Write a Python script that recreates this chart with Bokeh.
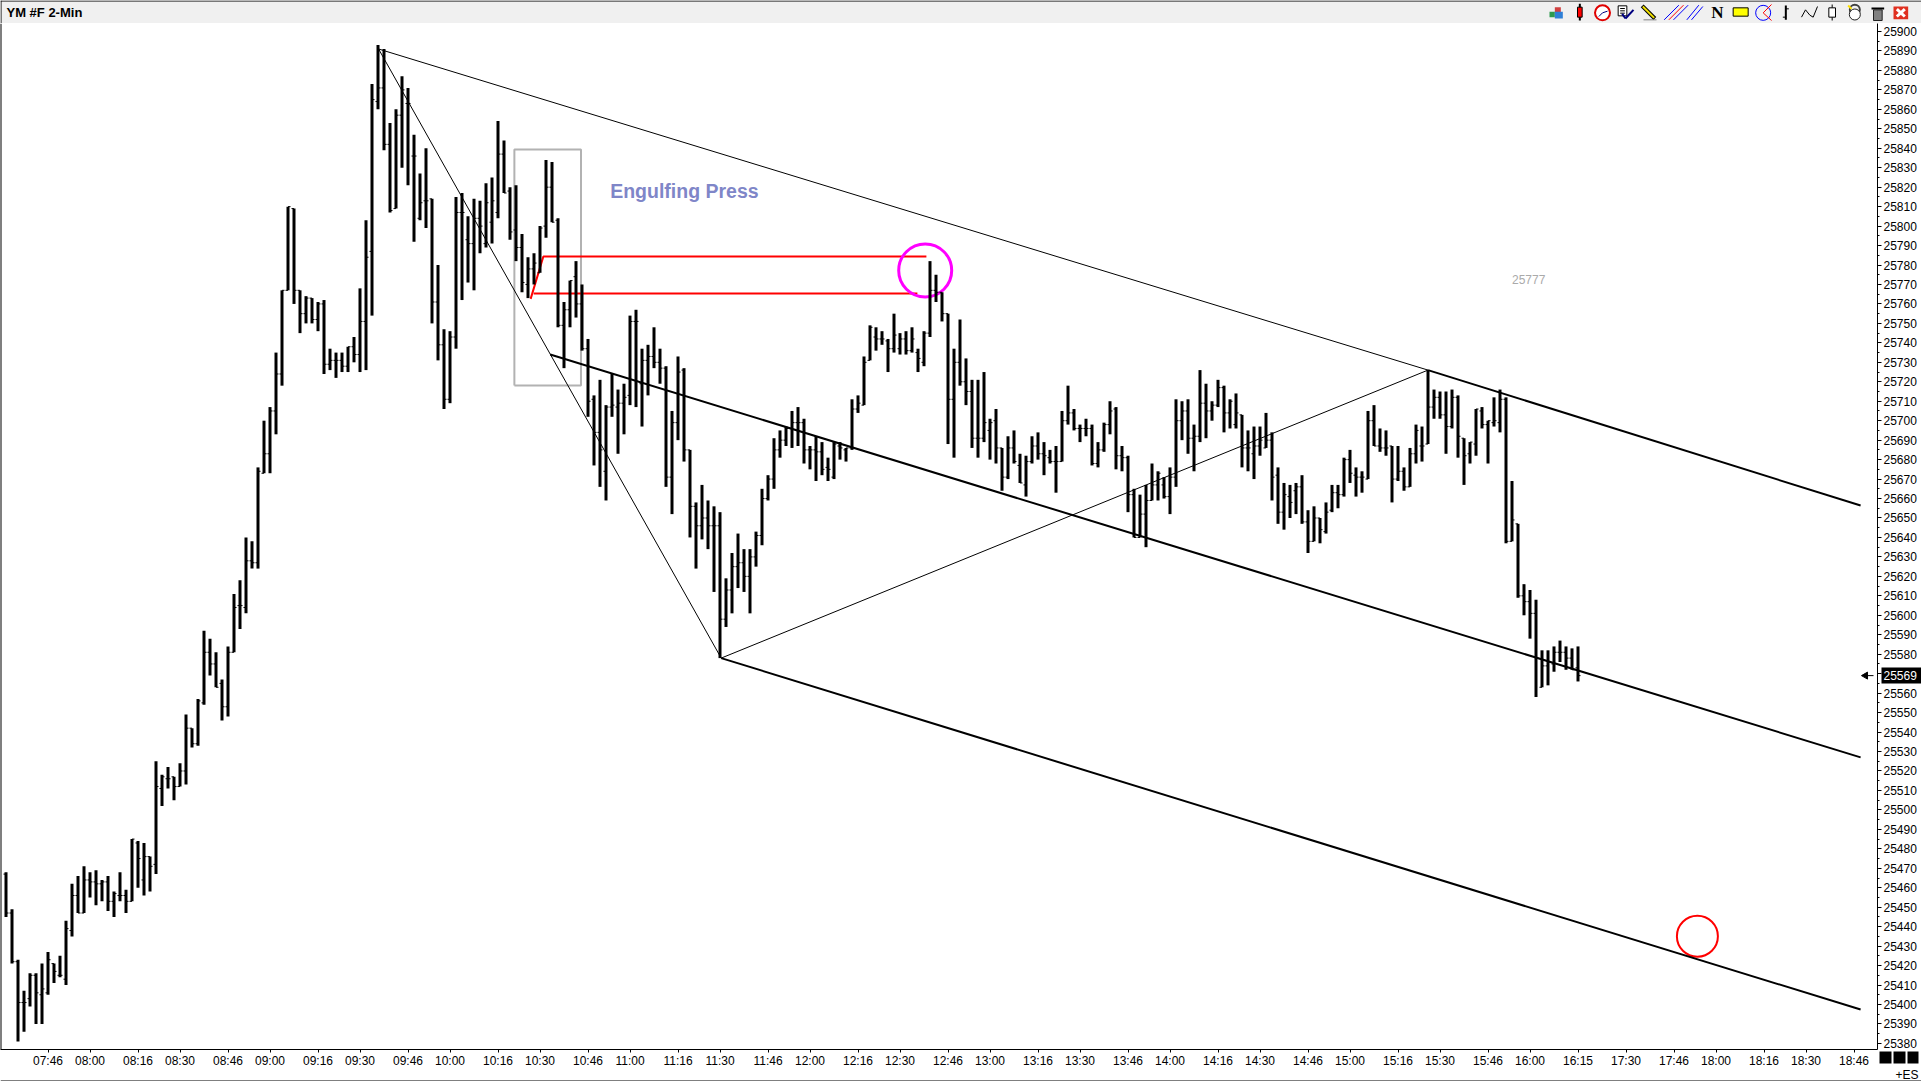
import math
from bokeh.core.properties import value
from bokeh.embed import file_html
from bokeh.resources import INLINE
from bokeh.plotting import figure
from bokeh.layouts import column, row
from bokeh.models import (Range1d, LinearAxis, FixedTicker, Label,
                          BasicTickFormatter, Span)

TITLE = "YM #F 2-Min"

HIGH = [25468,25449,25423,25407,25416,25416,25421,25427,25421,25425,
25443,25462,25466,25471,25468,25469,25464,25466,25458,25468,
25459,25485,25484,25483,25476,25525,25518,25522,25517,25524,
25549,25542,25557,25592,25588,25581,25567,25584,25611,25618,
25640,25638,25676,25700,25707,25735,25767,25810,25809,25767,
25764,25763,25761,25762,25737,25735,25735,25738,25743,25768,
25803,25873,25893,25891,25853,25860,25877,25871,25847,25827,
25840,25814,25780,25747,25746,25815,25817,25805,25814,25813,
25822,25825,25854,25844,25820,25821,25796,25784,25786,25800,
25834,25833,25804,25761,25772,25782,25770,25742,25713,25721,
25708,25724,25716,25719,25754,25757,25737,25739,25748,25737,
25728,25705,25733,25727,25685,25658,25667,25659,25656,25653,
25619,25632,25642,25634,25634,25643,25665,25672,25691,25695,
25697,25705,25707,25701,25687,25692,25689,25681,25689,25689,
25686,25711,25713,25733,25749,25748,25746,25742,25755,25745,
25746,25748,25737,25746,25782,25775,25766,25755,25737,25752,
25732,25721,25721,25725,25701,25706,25686,25692,25695,25683,
25682,25692,25694,25689,25685,25687,25705,25718,25706,25698,
25701,25698,25689,25699,25710,25707,25687,25682,25665,25662,
25667,25678,25674,25671,25676,25711,25710,25711,25698,25726,
25719,25710,25721,25718,25711,25714,25703,25695,25697,25697,
25704,25694,25676,25668,25667,25668,25672,25654,25656,25650,
25658,25667,25667,25681,25685,25676,25674,25705,25708,25696,
25695,25687,25687,25676,25686,25698,25697,25726,25716,25715,
25715,25716,25713,25691,25689,25706,25707,25700,25712,25716,
25712,25669,25647,25616,25613,25608,25582,25582,25584,25587,25584,25583,25584]

LOW = [25445,25421,25381,25386,25399,25390,25390,25405,25411,25414,
25410,25435,25447,25447,25455,25451,25453,25448,25445,25453,
25447,25453,25460,25456,25458,25467,25502,25511,25505,25512,
25513,25532,25533,25554,25569,25563,25546,25548,25581,25593,
25601,25624,25624,25673,25673,25693,25718,25767,25760,25745,
25750,25750,25746,25724,25726,25722,25725,25725,25730,25725,
25726,25754,25860,25839,25807,25809,25830,25821,25792,25803,
25799,25750,25731,25706,25709,25737,25762,25771,25767,25786,
25789,25791,25804,25817,25793,25782,25766,25763,25770,25776,
25794,25802,25748,25727,25748,25753,25736,25702,25677,25666,
25659,25702,25683,25693,25708,25707,25697,25713,25727,25719,
25666,25652,25690,25679,25640,25624,25639,25634,25612,25578,
25594,25601,25614,25612,25601,25625,25636,25659,25665,25681,
25687,25686,25687,25678,25675,25669,25672,25669,25670,25680,
25679,25685,25704,25708,25731,25736,25739,25725,25735,25734,
25734,25735,25725,25728,25743,25761,25751,25688,25681,25718,
25708,25686,25681,25689,25680,25678,25664,25670,25678,25668,
25661,25678,25680,25672,25678,25663,25679,25698,25695,25689,
25692,25677,25676,25684,25693,25675,25674,25653,25640,25640,
25635,25659,25659,25660,25652,25666,25690,25683,25674,25689,
25691,25700,25707,25694,25696,25696,25676,25674,25670,25682,
25686,25659,25647,25644,25650,25652,25647,25632,25638,25637,
25642,25653,25655,25661,25668,25661,25663,25670,25687,25684,
25682,25658,25669,25664,25666,25678,25679,25688,25701,25701,
25683,25696,25681,25667,25678,25682,25696,25678,25697,25694,
25637,25638,25609,25600,25588,25558,25563,25564,25571,25576,25572,25572,25566]

OPEN = [25467,25447,25422,25401,25403,25415,25405,25406,25421,25415,
25413,25438,25456,25447,25464,25463,25462,25463,25453,25456,
25456,25453,25483,25464,25476,25472,25511,25516,25517,25512,
25520,25542,25534,25555,25581,25575,25565,25553,25581,25605,
25604,25628,25627,25673,25683,25705,25724,25767,25809,25767,
25755,25763,25752,25760,25729,25731,25731,25728,25738,25734,
25751,25787,25864,25871,25842,25809,25857,25863,25836,25804,
25813,25814,25761,25739,25711,25743,25807,25793,25791,25804,
25791,25802,25807,25837,25818,25798,25789,25770,25778,25776,
25800,25820,25803,25749,25757,25774,25760,25737,25711,25694,
25674,25707,25707,25709,25713,25751,25719,25731,25733,25730,
25727,25671,25699,25726,25685,25656,25646,25650,25646,25646,
25598,25613,25625,25627,25620,25630,25641,25660,25670,25685,
25690,25696,25699,25699,25685,25685,25684,25676,25671,25687,
25685,25686,25706,25708,25731,25743,25742,25741,25737,25737,
25742,25736,25735,25730,25745,25767,25766,25755,25711,25730,
25720,25715,25691,25691,25695,25700,25686,25671,25686,25677,
25667,25679,25687,25683,25681,25679,25679,25700,25704,25696,
25696,25696,25678,25685,25698,25706,25682,25681,25662,25640,
25652,25659,25667,25667,25661,25671,25700,25705,25691,25692,
25709,25705,25708,25717,25704,25698,25703,25686,25683,25687,
25686,25690,25672,25653,25661,25664,25666,25648,25638,25650,
25643,25654,25663,25662,25680,25672,25671,25670,25700,25687,
25686,25687,25670,25674,25666,25683,25687,25688,25707,25712,
25703,25697,25712,25691,25683,25688,25705,25698,25699,25699,
25711,25638,25647,25610,25607,25601,25563,25574,25575,25581,25581,25578,25573]

CLOSE = [25447,25422,25401,25401,25415,25406,25408,25423,25417,25415,
25439,25456,25447,25464,25463,25462,25463,25453,25457,25456,
25453,25485,25475,25476,25471,25512,25517,25516,25512,25520,
25542,25534,25556,25581,25575,25563,25553,25581,25604,25605,
25628,25627,25674,25683,25705,25724,25767,25810,25767,25755,
25763,25752,25760,25729,25731,25731,25728,25738,25734,25751,
25784,25865,25871,25842,25808,25857,25870,25863,25836,25812,
25813,25761,25739,25711,25743,25807,25807,25791,25804,25800,
25812,25813,25837,25817,25797,25789,25771,25778,25781,25799,
25820,25802,25749,25757,25772,25760,25737,25710,25694,25685,
25707,25708,25709,25712,25751,25751,25731,25733,25730,25727,
25671,25699,25725,25685,25656,25646,25650,25646,25646,25598,
25613,25625,25627,25620,25630,25641,25660,25670,25685,25690,
25696,25699,25699,25685,25685,25684,25675,25675,25688,25686,
25686,25706,25709,25730,25748,25742,25742,25737,25744,25742,
25736,25742,25732,25745,25767,25766,25755,25711,25730,25720,
25715,25691,25691,25699,25699,25686,25671,25686,25679,25668,
25679,25687,25683,25682,25679,25679,25700,25704,25696,25696,
25696,25678,25685,25698,25705,25682,25681,25662,25640,25652,
25659,25667,25673,25661,25671,25700,25705,25691,25692,25709,
25705,25708,25717,25704,25710,25704,25686,25686,25687,25690,
25690,25671,25653,25662,25658,25666,25648,25638,25650,25644,
25653,25663,25662,25680,25673,25671,25671,25700,25687,25686,
25686,25670,25674,25666,25683,25695,25687,25707,25712,25703,
25697,25712,25692,25682,25689,25706,25698,25700,25700,25711,
25638,25649,25610,25607,25601,25578,25574,25576,25581,25581,25578,25572,25569]

TICK_BARS = [7,14,22,29,37,44,52,59,67,74,82,89,97,104,112,119,127,134,142,149,157,164,
             172,179,187,194,202,209,217,224,232,239,247,254,262,270,278,285,293,300,308]
TICK_LABELS = ["07:46","08:00","08:16","08:30","08:46","09:00","09:16","09:30","09:46","10:00",
               "10:16","10:30","10:46","11:00","11:16","11:30","11:46","12:00","12:16","12:30",
               "12:46","13:00","13:16","13:30","13:46","14:00","14:16","14:30","14:46","15:00",
               "15:16","15:30","15:46","16:00","16:15","17:30","17:46","18:00","18:16","18:30","18:46"]
PRICE_TICKS = list(range(25380, 25901, 10))
PRICE_MINOR = list(range(25385, 25901, 10))
LAST_PRICE = 25569

# drawing objects on the chart: (bar index, price)
P_A = (62.1, 25891.0)
P_B = (237.0, 25726.0)
P_C = (119.2, 25578.0)
P_RAIL_TOP_END = (309.1, 25656.4)
P_MED_START = (90.7, 25734.0)
P_MED_END = (309.1, 25527.0)
P_RAIL_LOW_END = (309.1, 25397.4)
BOX = (84.73, 95.83, 25718.1, 25839.4)
RED_TOP = [(87.44, 25762.6), (89.56, 25784.4), (153.4, 25784.4)]
RED_BOTTOM = [(87.94, 25765.4), (151.9, 25765.4)]
CIRCLE_MAG = (153.2, 25777.2)
CIRCLE_RED = (281.9, 25435.1)

W, H = 1921, 1081
BAR_H = 23
FRAME_W, RIGHT = 1877, 44
BOTTOM = 32
FRAME_H = H - BAR_H - BOTTOM
FONT = "Liberation Sans"
PX = 1 / 6                       # one pixel in bar units
X0 = -5.5 * PX
X1 = X0 + FRAME_W * PX
Y_TOP, Y_BOT = 25904.11, 25376.87
PY = (Y_TOP - Y_BOT) / FRAME_H   # one pixel in price units

p = figure(width=W, height=H - BAR_H, frame_width=FRAME_W, frame_height=FRAME_H,
           output_backend="svg", toolbar_location=None, x_axis_location=None, y_axis_location=None,
           x_range=Range1d(X0, X1), y_range=Range1d(Y_BOT, Y_TOP), frame_align=False,
           min_border_left=0, min_border_right=RIGHT, min_border_top=0, min_border_bottom=BOTTOM,
           background_fill_color="white", border_fill_color="white", outline_line_color=None)
p.grid.visible = False

xaxis = LinearAxis(ticker=FixedTicker(ticks=TICK_BARS),
                   major_label_overrides=dict(zip(TICK_BARS, TICK_LABELS)),
                   major_tick_in=0, major_tick_out=3, minor_tick_out=0, minor_tick_in=0,
                   major_label_standoff=1, major_label_text_font=FONT, major_label_text_font_size="12px",
                   major_label_text_color="#000000", axis_line_color="black", major_tick_line_color="black")
p.add_layout(xaxis, "below")
yaxis = LinearAxis(ticker=FixedTicker(ticks=PRICE_TICKS, minor_ticks=PRICE_MINOR),
                   formatter=BasicTickFormatter(use_scientific=False),
                   major_label_overrides={25570: ""},
                   major_tick_in=0, major_tick_out=4, minor_tick_in=0, minor_tick_out=2,
                   major_label_standoff=2, major_label_text_font=FONT, major_label_text_font_size="12px",
                   major_label_text_color="#000000", axis_line_color="black",
                   major_tick_line_color="black", minor_tick_line_color="black")
p.add_layout(yaxis, "right")

# left border
p.add_layout(Span(location=X0, dimension="height", line_color="black", line_width=2))

# rectangle and red parallelogram below the bars
p.line([BOX[0], BOX[1], BOX[1], BOX[0], BOX[0]], [BOX[2], BOX[2], BOX[3], BOX[3], BOX[2]],
       line_color="#b2b2b2", line_width=2)
p.line([q[0] for q in RED_TOP], [q[1] for q in RED_TOP], line_color="#ff0000", line_width=2)
p.line([q[0] for q in RED_BOTTOM], [q[1] for q in RED_BOTTOM], line_color="#ff0000", line_width=2)
p.scatter([CIRCLE_MAG[0]], [CIRCLE_MAG[1]], marker="circle", size=53, fill_color=None,
          line_color="#ff00ff", line_width=3)
p.scatter([CIRCLE_RED[0]], [CIRCLE_RED[1]], marker="circle", size=41, fill_color=None,
          line_color="#ff0000", line_width=2)

# pitchfork
thin = dict(line_color="black", line_width=1)
thick = dict(line_color="black", line_width=2)
p.line([P_A[0], P_C[0]], [P_A[1], P_C[1]], **thin)
p.line([P_A[0], P_B[0]], [P_A[1], P_B[1]], **thin)
p.line([P_C[0], P_B[0]], [P_C[1], P_B[1]], **thin)
p.line([P_B[0], P_RAIL_TOP_END[0]], [P_B[1], P_RAIL_TOP_END[1]], **thick)
p.line([P_MED_START[0], P_MED_END[0]], [P_MED_START[1], P_MED_END[1]], **thick)
p.line([P_C[0], P_RAIL_LOW_END[0]], [P_C[1], P_RAIL_LOW_END[1]], **thick)

# OHLC bars
idx = list(range(len(HIGH)))
p.segment(idx, LOW, idx, HIGH, line_color="black", line_width=3)
p.segment([i - 2.5 * PX for i in idx], OPEN, idx, OPEN, line_color="black", line_width=1)
p.segment(idx, CLOSE, [i + 2.5 * PX for i in idx], CLOSE, line_color="black", line_width=1)

# texts on the chart
p.add_layout(Label(x=100.7, y=25817.9, text="Engulfing Press", text_font=FONT, text_font_style="bold",
                   text_font_size="19.5px", text_color="#7f86c8", text_baseline="middle"))
p.add_layout(Label(x=251.0, y=25772.6, text="25777", text_font=FONT, text_font_size="12px",
                   text_color="#aaaaaa", text_baseline="middle"))

# last price arrow
p.segment([X1 - 15 * PX], [LAST_PRICE], [X1 - 4 * PX], [LAST_PRICE], line_color="black", line_width=1)
p.scatter([X1 - 12 * PX], [LAST_PRICE], marker="triangle", angle=math.pi / 2, size=7,
          fill_color="black", line_color="black")

# ---- transparent sheet above the chart: what lies outside its plotting frame
sheet = figure(width=W, height=H - BAR_H, output_backend="svg", toolbar_location=None,
               x_range=Range1d(X0, X1 + RIGHT * PX), y_range=Range1d(Y_BOT - BOTTOM * PY, Y_TOP),
               min_border=0, frame_align=False, margin=(0, 0, 0, -W),
               background_fill_alpha=0, border_fill_alpha=0, outline_line_color=None)
sheet.axis.visible = False
sheet.grid.visible = False
sheet.quad(left=[X1 + 4 * PX], right=[X1 + RIGHT * PX], bottom=[LAST_PRICE - 8 * PY], top=[LAST_PRICE + 8 * PY],
           fill_color="black", line_color=None)
sheet.text([X1 + 6 * PX], [LAST_PRICE], text=[str(LAST_PRICE)], text_font=value(FONT), text_font_size="12px",
           text_color="white", text_baseline="middle")
for a, b in [(2, 14), (16, 28), (30, 41)]:
    sheet.quad(left=[X1 + a * PX], right=[X1 + b * PX], top=[Y_BOT - 2 * PY], bottom=[Y_BOT - 14 * PY],
               fill_color="black", line_color=None)
sheet.text([X1 + 41 * PX], [Y_BOT - 25 * PY], text=["+ES"], text_font=value(FONT), text_font_size="12px",
           text_color="black", text_align="right", text_baseline="middle")
sheet.quad(left=[X0], right=[X1 + RIGHT * PX], top=[Y_BOT - 31 * PY], bottom=[Y_BOT - 32 * PY],
           fill_color="black", line_color=None)

# ---- title bar with its icons (x, y in pixels of the bar)
bar = figure(width=W, height=BAR_H, output_backend="svg", toolbar_location=None,
             x_range=Range1d(0, W), y_range=Range1d(BAR_H, 0), min_border=0, frame_align=False,
             background_fill_color="#f0f0f0", border_fill_color="#f0f0f0", outline_line_color=None)
bar.axis.visible = False
bar.grid.visible = False
bar.segment([0], [0.5], [W], [0.5], line_color="black", line_width=1)
bar.segment([0.5], [0], [0.5], [BAR_H], line_color="black", line_width=1)
bar.text([6], [12], text=[TITLE], text_font=value(FONT), text_font_style="bold",
         text_font_size="13px", text_color="black", text_baseline="middle")

def X(z):
    return 1521 + z / 3

def Y(z):
    return z / 3

def seg(x0, y0, x1, y1, color="black", w=1):
    bar.segment([X(x0)], [Y(y0)], [X(x1)], [Y(y1)], line_color=color, line_width=w)

def rect(x0, y0, x1, y1, fill, line="black"):
    bar.quad(left=[X(x0)], right=[X(x1)], top=[Y(y0)], bottom=[Y(y1)], fill_color=fill, line_color=line, line_width=1)

# cubes
rect(100, 20, 118, 36, "#d04040", None)
rect(84, 34, 100, 50, "#2e9a4e", None)
rect(100, 34, 124, 54, "#2f7fd6", None)
# red candle
seg(175, 10, 175, 60, "black", 2)
rect(168, 20, 182, 50, "#ff0000")
# clock
bar.scatter([X(243)], [Y(37)], marker="circle", size=15, fill_color="white", line_color="#e00000", line_width=2)
seg(243, 37, 232, 48, "#000080")
seg(243, 37, 258, 32, "#000080")
# check list
rect(290, 16, 316, 46, "white")
seg(296, 24, 310, 24); seg(296, 31, 310, 31); seg(296, 38, 310, 38)
seg(302, 40, 312, 54, "#000080", 2); seg(312, 54, 336, 28, "#000080", 2)
# pencil
seg(362, 16, 400, 54, "#000000", 4); seg(364, 18, 398, 52, "#f0e000", 2)
seg(366, 58, 405, 58, "#808080")
# pitchforks
seg(428, 58, 472, 14, "#0000ff"); seg(442, 58, 486, 14, "#ff0000"); seg(456, 58, 500, 14, "#0000ff")
seg(496, 58, 532, 14, "#0000ff"); seg(510, 58, 544, 18, "#0000ff")
# N
bar.text([X(588)], [Y(36)], text=["N"], text_font=value("Liberation Serif"), text_font_style="bold",
         text_font_size="17px", text_color="black", text_align="center", text_baseline="middle")
# yellow rectangle
rect(635, 22, 680, 47, "#ffff00")
# circle
bar.scatter([X(725)], [Y(37)], marker="circle", size=15, fill_color=None, line_color="#0000ff", line_width=1)
seg(725, 37, 750, 12, "#ff0000"); seg(725, 37, 750, 60, "#ff0000")
# bar
seg(793, 15, 793, 58, "black", 2); seg(793, 25, 802, 25, "black", 1); seg(784, 50, 793, 50, "black", 1)
# zigzag
bar.line([X(840), X(852), X(865), X(875), X(888)], [Y(50), Y(28), Y(44), Y(50), Y(18)], line_color="black", line_width=1)
# white candle
seg(932, 12, 932, 60)
rect(922, 22, 942, 50, "white")
# lock
bar.scatter([X(1000)], [Y(28)], marker="circle", size=10, fill_color=None, line_color="#404040", line_width=2)
bar.scatter([X(1000)], [Y(42)], marker="circle", size=11, fill_color="white", line_color="#202020", line_width=1)
seg(980, 15, 990, 25, "#ffe000", 2)
# trash
seg(1050, 24, 1088, 24, "black", 2)
rect(1056, 28, 1082, 60, "#808080", "#202020")
# close
rect(1116, 18, 1160, 56, "#e03020", None)
seg(1126, 26, 1150, 48, "white", 3); seg(1150, 26, 1126, 48, "white", 3)

page = column(bar, row(p, sheet, spacing=0), spacing=0)
open("out.html", "w").write(file_html(page, INLINE))
